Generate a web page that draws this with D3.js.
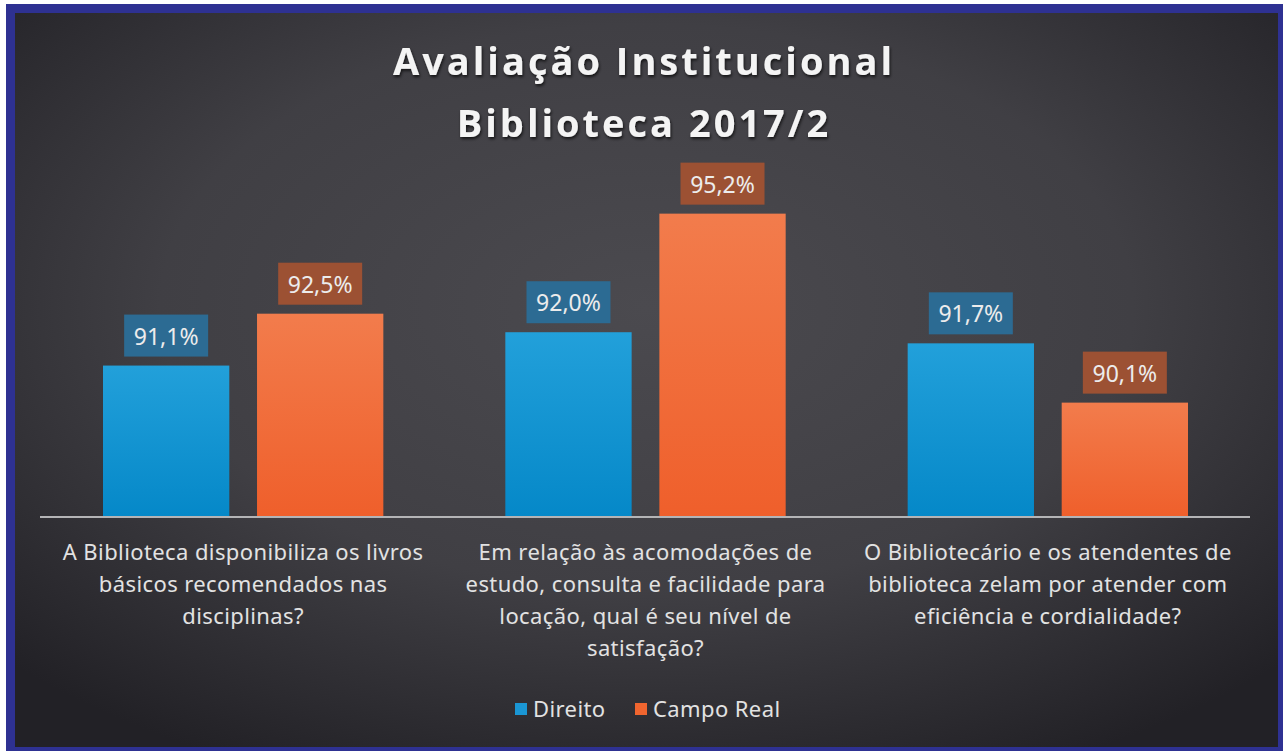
<!DOCTYPE html>
<html>
<head>
<meta charset="utf-8">
<script src="https://cdn.jsdelivr.net/npm/d3@7"></script>
<style>
	body { margin: 0; background: #ffffff; }
	svg { display: block; }
</style>
</head>
<body>
<svg id="chart"></svg>
<script>
// chart data
const categories = [
	["A Biblioteca disponibiliza os livros", "básicos recomendados nas", "disciplinas?"],
	["Em relação às acomodações de", "estudo, consulta e facilidade para", "locação, qual é seu nível de", "satisfação?"],
	["O Bibliotecário e os atendentes de", "biblioteca zelam por atender com", "eficiência e cordialidade?"]
];
const seriesNames = ["Direito", "Campo Real"];
const direito = [91.1, 92.0, 91.7];
const campoReal = [92.5, 95.2, 90.1];
const titleLines = ["Avaliação Institucional", "Biblioteca 2017/2"];

const W = 1283, H = 751;
const svg = d3.select("#chart").attr("width", W).attr("height", H);
const defs = svg.append("defs");

// background gradient
const bg = defs.append("radialGradient").attr("id", "bg")
	.attr("cx", "50%").attr("cy", "40%").attr("r", "70%");
bg.append("stop").attr("offset", "0%").attr("stop-color", "#4b4a4f");
bg.append("stop").attr("offset", "55%").attr("stop-color", "#403f44");
bg.append("stop").attr("offset", "100%").attr("stop-color", "#222126");

const gBlue = defs.append("linearGradient").attr("id", "gBlue").attr("x1", 0).attr("x2", 0).attr("y1", 0).attr("y2", 1);
gBlue.append("stop").attr("offset", "0%").attr("stop-color", "#22a0da");
gBlue.append("stop").attr("offset", "100%").attr("stop-color", "#0588c8");
const gOrange = defs.append("linearGradient").attr("id", "gOrange").attr("x1", 0).attr("x2", 0).attr("y1", 0).attr("y2", 1);
gOrange.append("stop").attr("offset", "0%").attr("stop-color", "#f27c4c");
gOrange.append("stop").attr("offset", "100%").attr("stop-color", "#ef5f2b");

const shadow = defs.append("filter").attr("id", "shadow").attr("x", "-10%").attr("y", "-30%").attr("width", "120%").attr("height", "160%");
shadow.append("feDropShadow").attr("dx", 1).attr("dy", 2).attr("stdDeviation", 1.5)
	.attr("flood-color", "#000").attr("flood-opacity", 0.7);

// frame
svg.append("rect").attr("x", 6).attr("y", 4).attr("width", W - 6).attr("height", H - 4).attr("fill", "#2e3192");
svg.append("rect").attr("x", 15).attr("y", 13).attr("width", 1263).attr("height", 734).attr("fill", "url(#bg)");

// title
svg.append("g").attr("filter", "url(#shadow)")
	.selectAll("text")
	.data(titleLines)
	.enter()
	.append("text")
	.attr("x", 644)
	.attr("y", (d, i) => 75 + i * 62)
	.attr("text-anchor", "middle")
	.style("font-family", "'Open Sans', sans-serif")
	.style("font-weight", "bold")
	.style("font-size", "38px")
	.style("letter-spacing", "3px")
	.style("fill", "#f4f4f4")
	.text(d => d);

// scales
const x0 = d3.scaleBand().domain(d3.range(categories.length)).range([42, 1249]);
const x1 = d3.scaleBand().domain(seriesNames).range([61, x0.bandwidth() - 61]).paddingInner(0.18);
const y = d3.scaleLinear().domain([87, 96]).range([517.5, 184]);
const baseY = 517;

const fills = ["url(#gBlue)", "url(#gOrange)"];
const boxFills = ["#2c6b93", "#9c5133"];
const legendFills = ["#1a96d4", "#f0652f"];

const barData = [];
categories.forEach((c, i) => {
	barData.push({ cat: i, series: seriesNames[0], s: 0, value: direito[i] });
	barData.push({ cat: i, series: seriesNames[1], s: 1, value: campoReal[i] });
});

const bars = svg.append("g");
bars.selectAll("rect")
	.data(barData)
	.enter()
	.append("rect")
	.attr("x", d => x0(d.cat) + x1(d.series))
	.attr("y", d => y(d.value))
	.attr("width", x1.bandwidth())
	.attr("height", d => baseY - y(d.value))
	.style("fill", d => fills[d.s]);

// axis line
svg.append("line")
	.attr("x1", 40).attr("x2", 1250)
	.attr("y1", baseY).attr("y2", baseY)
	.style("stroke", "#b4b4b6")
	.style("stroke-width", 2);

// value labels
const labels = svg.append("g").selectAll("g")
	.data(barData)
	.enter()
	.append("g")
	.attr("transform", d => `translate(${x0(d.cat) + x1(d.series) + x1.bandwidth() / 2},${y(d.value) - 9})`);
labels.append("rect")
	.attr("x", -42).attr("y", -42)
	.attr("width", 84).attr("height", 42)
	.style("fill", d => boxFills[d.s]);
labels.append("text")
	.attr("y", -12)
	.attr("text-anchor", "middle")
	.style("font-family", "'Noto Sans', sans-serif")
	.style("font-size", "23px")
	.style("fill", "#ececec")
	.text(d => d.value.toFixed(1).replace(".", ",") + "%");

// category labels
const catG = svg.append("g").selectAll("text")
	.data(categories)
	.enter()
	.append("text")
	.attr("x", (d, i) => x0(i) + x0.bandwidth() / 2)
	.attr("text-anchor", "middle")
	.style("font-family", "'Noto Sans', sans-serif")
	.style("font-size", "22px")
	.style("letter-spacing", "0.4px")
	.style("fill", "#e2e2e2");
catG.selectAll("tspan")
	.data(d => d)
	.enter()
	.append("tspan")
	.attr("x", function () { return this.parentNode.getAttribute("x"); })
	.attr("y", (d, i) => 560 + i * 32)
	.text(d => d);

// legend
const legend = svg.append("g");
const legendX = [515, 635];
seriesNames.forEach((name, i) => {
	legend.append("rect")
		.attr("x", legendX[i]).attr("y", 703)
		.attr("width", 12).attr("height", 12)
		.style("fill", legendFills[i]);
	legend.append("text")
		.attr("x", legendX[i] + 18).attr("y", 717)
		.style("font-family", "'Noto Sans', sans-serif")
		.style("font-size", "22px")
		.style("letter-spacing", "0.4px")
		.style("fill", "#e2e2e2")
		.text(name);
});
</script>
</body>
</html>
